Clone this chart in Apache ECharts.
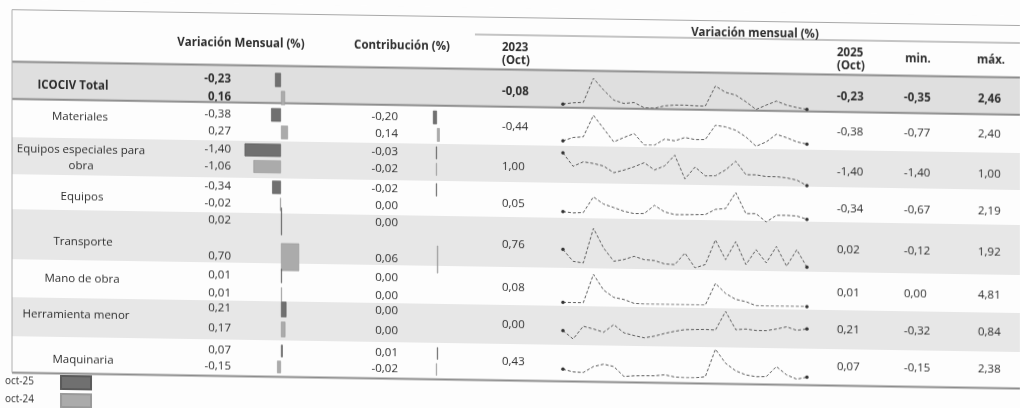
<!DOCTYPE html>
<html><head><meta charset="utf-8">
<script src="https://cdn.jsdelivr.net/npm/echarts@6/dist/echarts.min.js"></script>
<style>
html,body{margin:0;padding:0;background:#fdfdfd;overflow:hidden;}
#c{width:1020px;height:408px;transform:skewY(0.9deg);transform-origin:0 0;}
</style></head><body><div id="c"></div>
<script>
// ---------- DATA ----------
const rowNames = ['ICOCIV Total','Materiales','Equipos especiales para\nobra','Equipos','Transporte','Mano de obra','Herramienta menor','Maquinaria'];
const varOct25 = [-0.23,-0.38,-1.40,-0.34,0.02,0.01,0.21,0.07];
const varOct24 = [0.16,0.27,-1.06,-0.02,0.70,0.01,0.17,-0.15];
const contribOct25 = [null,-0.20,-0.03,-0.02,0.00,0.00,0.00,0.01];
const contribOct24 = [null,0.14,-0.02,0.00,0.06,0.00,0.00,-0.02];
const oct2023 = [-0.08,-0.44,1.00,0.05,0.76,0.08,0.00,0.43];
const oct2025 = [-0.23,-0.38,-1.40,-0.34,0.02,0.01,0.21,0.07];
const minVals = [-0.35,-0.77,-1.40,-0.67,-0.12,0.00,-0.32,-0.15];
const maxVals = [2.46,2.40,1.00,2.19,1.92,4.81,0.84,2.38];
const months = ['oct-23','nov-23','dic-23','ene-24','feb-24','mar-24','abr-24','may-24','jun-24','jul-24','ago-24','sep-24','oct-24','nov-24','dic-24','ene-25','feb-25','mar-25','abr-25','may-25','jun-25','jul-25','ago-25','sep-25','oct-25'];
const sparkTotal = [-0.08,0.06,0.11,2.46,1.34,0.38,0.07,0.18,-0.32,-0.35,-0.10,-0.01,0.00,-0.05,-0.07,1.90,1.30,1.05,0.42,-0.31,0.13,0.53,0.16,-0.06,-0.23];
const sparkMateriales = [-0.44,-0.06,0.03,2.40,0.97,-0.47,0.03,0.48,-0.77,-0.76,-0.08,-0.25,0.13,-0.08,-0.06,1.52,1.36,1.01,0.30,-0.70,-0.21,0.64,0.29,-0.15,-0.38];
const sparkEqEspeciales = [1.00,-0.10,0.28,0.16,-0.04,-0.58,-0.35,-0.06,0.29,-0.30,0.05,0.95,-1.00,0.00,-0.72,-0.70,-0.20,0.53,-0.57,-0.57,-0.70,-0.70,-0.78,-0.95,-1.40];
const sparkEquipos = [0.05,-0.07,-0.02,1.54,0.85,0.52,0.17,-0.04,-0.02,0.80,0.17,-0.08,-0.07,-0.05,-0.03,0.50,0.60,2.19,0.13,0.14,-0.67,0.01,0.02,-0.03,-0.34];
const sparkTransporte = [0.76,0.13,0.05,1.92,0.87,0.17,0.27,0.45,0.28,0.24,0.07,0.04,0.67,-0.12,0.07,1.40,0.35,1.33,0.10,0.91,0.21,1.10,0.05,0.94,0.02];
const sparkManoObra = [0.08,0.07,0.07,4.81,2.22,1.04,0.71,0.10,0.00,0.00,0.00,0.00,0.00,0.00,0.00,3.62,1.98,1.02,0.67,0.02,0.00,0.00,0.01,0.01,0.01];
const sparkHerramienta = [0.00,-0.32,0.18,0.08,-0.04,0.26,-0.05,-0.15,-0.23,-0.16,-0.05,0.04,0.11,0.12,0.13,0.11,0.84,0.14,0.17,0.12,0.12,0.19,0.28,0.15,0.21];
const sparkMaquinaria = [0.43,0.21,0.17,0.70,0.92,0.73,-0.12,-0.05,-0.03,-0.02,0.08,-0.10,-0.15,-0.14,-0.04,2.38,1.17,0.52,0.18,0.04,0.06,0.95,0.24,-0.12,0.07];
const sparks = [sparkTotal,sparkMateriales,sparkEqEspeciales,sparkEquipos,sparkTransporte,sparkManoObra,sparkHerramienta,sparkMaquinaria];

// ---------- LAYOUT ----------
const rowTop = [61.5, 98.7, 137, 174, 209, 259, 297, 336];
const tableBottom = 372.5;
const lineY1 = [75.6, 110.6, 146, 183, 217, 271.6, 305, 346.6];
const lineY2 = [93.6, 128, 162.5, 200, 252.6, 290, 325, 362.6];
const midY = [83.5, 119, 159, 196, 237, 280, 316.5, 354];
const labelY = [84.7, 115.4, 157, 195.5, 240.4, 278, 313.7, 358.7];
const labelX = [73, 80, 81, 82, 83, 82, 76, 83];
const sparkTop = [69,106,144,181,219,265,300,338];
const sparkBottom = [98,135,173,210,257,294,330,367];
const FONT = '"Open Sans", "Noto Sans", sans-serif';
const FS = 11.5;
const C25 = '#707070', C24 = '#ababab', TXT = '#2e2e2e';

const fmt = v => v.toFixed(2).replace('.', ',');

const grid = [], xAxis = [], yAxis = [], series = [], graphic = [];
let gi = 0;
function addBarGrid(r, left, width, min, max, margin, v25, v24) {
  const band = lineY2[r] - lineY1[r];
  grid.push({left: left, width: width, top: lineY1[r] - band/2, height: band*2});
  xAxis.push({type:'value', gridIndex: gi, min: min, max: max, show: false});
  yAxis.push({type:'category', gridIndex: gi, data:['oct-25','oct-24'], inverse: true,
    axisLine:{show:false}, axisTick:{show:false}, splitLine:{show:false},
    axisLabel:{margin: margin, fontSize: FS, fontFamily: FONT, color: TXT, fontWeight: r===0?'bold':'normal',
      formatter: (v, i) => fmt(i===0 ? v25 : v24)}});
  const common = {type:'bar', xAxisIndex: gi, yAxisIndex: gi, barGap:'-100%', barWidth:'78%', barMinHeight: 1, silent: true, animation:false};
  series.push(Object.assign({name:'oct-25', data:[v25===0?'-':v25, '-'], itemStyle:{color:C25, borderColor:'#5a5a5a', borderWidth:0.6}}, common));
  series.push(Object.assign({name:'oct-24', data:['-', v24===0?'-':v24], itemStyle:{color:C24, borderColor:'#999', borderWidth:0.6}}, common));
  gi++;
}
for (let r = 0; r < 8; r++) {
  addBarGrid(r, 242, 78, -1.5, 1.5, 11, varOct25[r], varOct24[r]);
  if (contribOct25[r] !== null) addBarGrid(r, 417, 40, -1, 1, 19, contribOct25[r], contribOct24[r]);
  grid.push({left: 563, width: 244, top: sparkTop[r], height: sparkBottom[r] - sparkTop[r]});
  xAxis.push({type:'category', gridIndex: gi, data: months, boundaryGap: false, show: false});
  yAxis.push({type:'value', gridIndex: gi, min:'dataMin', max:'dataMax', scale: true, show: false});
  series.push({type:'line', xAxisIndex: gi, yAxisIndex: gi, data: sparks[r], silent: true, animation:false,
    symbol:'circle', showSymbol: true, showAllSymbol: true,
    symbolSize: (v, p) => (p.dataIndex === 0 || p.dataIndex === sparks[r].length - 1) ? 3.5 : 0,
    lineStyle:{color:'#5a5a5a', width:1, type:[3,2]}, itemStyle:{color:'#333'}});
  gi++;
}

// ---------- TABLE DECORATION ----------
for (let r = 0; r < 8; r++) {
  if (r % 2 === 0) {
    const bottom = r < 7 ? rowTop[r+1] : tableBottom;
    graphic.push({type:'rect', z:0, shape:{x:12, y:rowTop[r], width:1008, height:bottom-rowTop[r]}, style:{fill: r===0?'#dfdfdf':'#e7e7e7'}, silent:true});
  }
}
function hline(y, x1, x2, w, c) { graphic.push({type:'line', z:1, shape:{x1:x1, y1:y, x2:x2, y2:y}, style:{stroke:c, lineWidth:w}, silent:true}); }
hline(9.5, 12, 1020, 1, '#a8a8a8');
hline(27, 475, 1020, 1, '#8a8a8a');
hline(61.5, 12, 1020, 2, '#8c8c8c');
hline(98.7, 12, 1020, 2, '#8c8c8c');
hline(tableBottom, 12, 1020, 2, '#8c8c8c');
graphic.push({type:'line', z:1, shape:{x1:12, y1:9.5, x2:12, y2:tableBottom}, style:{stroke:'#b0b0b0', lineWidth:1}, silent:true});

function txt(s, x, y, align, bold, size) {
  graphic.push({type:'text', z:10, x:x, y:y, silent:true,
    style:{text:s, fill:TXT, font:(bold?'bold ':'') + (size||FS) + 'px ' + FONT,
      textAlign:align, textVerticalAlign:'middle', align:align, verticalAlign:'middle', lineHeight:16}});
}
txt('Variación Mensual (%)', 241, 39.5, 'center', true);
txt('Contribución (%)', 402, 39.5, 'center', true);
txt('Variación mensual (%)', 755, 21.5, 'center', true);
txt('2023', 502, 40, 'left', true);
txt('(Oct)', 502, 53, 'left', true);
txt('2025', 837, 40, 'left', true);
txt('(Oct)', 837, 53, 'left', true);
txt('min.', 918, 45, 'center', true);
txt('máx.', 991, 45, 'center', true);
for (let r = 0; r < 8; r++) {
  const b = r === 0;
  txt(rowNames[r], labelX[r], labelY[r], 'center', b);
  txt(fmt(oct2023[r]), 502, midY[r], 'left', b);
  txt(fmt(oct2025[r]), 837, midY[r], 'left', b);
  txt(fmt(minVals[r]), 904, midY[r], 'left', b);
  txt(fmt(maxVals[r]), 978, midY[r], 'left', b);
}

const chart = echarts.init(document.getElementById('c'), null, {renderer:'canvas'});
chart.setOption({
  backgroundColor:'#fdfdfd',
  animation:false,
  grid: grid, xAxis: xAxis, yAxis: yAxis, series: series, graphic: graphic,
  legend: {data:['oct-25','oct-24'], orient:'vertical', left:5, top:374, itemWidth:30, itemHeight:13, itemGap:3,
    align:'right', selectedMode:false, padding:0, icon:'rect',
    textStyle:{fontSize:10, fontFamily:FONT, color:TXT, padding:[0, 22, 0, 0]}}
});
</script></body></html>
